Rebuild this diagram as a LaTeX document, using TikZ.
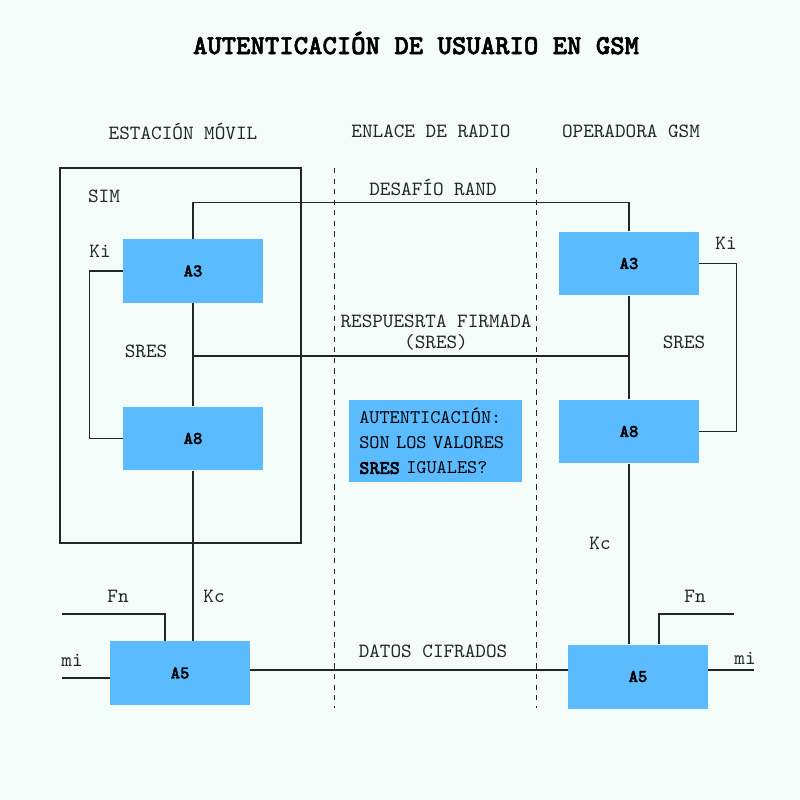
\documentclass[tikz,border=0pt]{standalone}
\usepackage{fontspec}
\setmainfont{lmmono10-regular}[Extension=.otf,BoldFont=lmmonolt10-bold,BoldFeatures={FakeBold=2}]
\usetikzlibrary{calc}
\definecolor{fondo}{RGB}{243,252,249}
\definecolor{caja}{RGB}{90,188,255}
\definecolor{linea}{RGB}{34,38,42}

\tikzset{
  bloque/.style={fill=caja,minimum width=2.8cm,minimum height=1.28cm,inner sep=0pt,
                 font=\fontsize{10.2}{11}\selectfont\bfseries},
  etiqueta/.style={font=\fontsize{11.5}{13}\selectfont,text=black!85,inner sep=0pt},
  conector/.style={draw=linea,line width=0.6pt},
}

\begin{document}
\begin{tikzpicture}[x=0.02cm,y=-0.02cm]
  \fill[fondo] (0,0) rectangle (800,800);
  \useasboundingbox (0,0) rectangle (800,800);
  \node[font=\fontsize{15.6}{18}\selectfont\bfseries,inner sep=0pt] (titulo) at (416,43) {AUTENTICACIÓN DE USUARIO EN GSM};
  \node[etiqueta] (movil)  at (183,131) {ESTACIÓN MÓVIL};
  \node[etiqueta] (radio)  at (431,131) {ENLACE DE RADIO};
  \node[etiqueta] (oper)   at (631,131) {OPERADORA GSM};
  % separadores del enlace de radio
  \draw[linea,dashed,line width=0.5pt] (334,168) -- (334,708);
  \draw[linea,dashed,line width=0.5pt] (536,168) -- (536,708);
  % tarjeta SIM
  \draw[conector] (60,168) rectangle (301,543);
  \node[etiqueta] (sim) at (104,196) {SIM};
  % bloques
  \node[bloque] (A3m) at (193,271) {A3};
  \node[bloque] (A8m) at (193,438.5) {A8};
  \node[bloque] (A5m) at (180,673) {A5};
  \node[bloque] (A3o) at (629,263.5) {A3};
  \node[bloque] (A8o) at (629,431.5) {A8};
  \node[bloque] (A5o) at (638,676.5) {A5};
  \node[bloque,font=\fontsize{11}{14.4}\selectfont,minimum width=3.46cm,minimum height=1.64cm,
        align=left,text width=3.05cm] (decision) at (435.5,441)
        {AUTENTICACIÓN:\\SON LOS VALORES\\\textbf{SRES} IGUALES?};
  % extremos libres
  \coordinate (fnm) at (62,614);
  \coordinate (mim) at (62,678);
  \coordinate (fno) at (734,614);
  \coordinate (mio) at (754,670);
  \coordinate (sres) at (0,356);
  \begin{scope}[every path/.style={conector}]
    \draw (A3m.north) -- ++(0,-36) -| (A3o.north);
    \draw (A3m.west) -- ++(-33,0) |- (A8m.west);
    \draw (A3o.east) -- ++(37,0) |- (A8o.east);
    \draw (A3m) -- (A8m);
    \draw (A3o) -- (A8o);
    \draw (A3m.south |- sres) -- (A3o.south |- sres);
    \draw (A8m.south) -- (A8m.south |- A5m.north);
    \draw (A8o.south) -- (A8o.south |- A5o.north);
    \draw (fnm) -| ($(A5m.north)+(-15,0)$);
    \draw (fno) -| ($(A5o.north)+(21,0)$);
    \draw (mim) -- (mim -| A5m.west);
    \draw (mio) -- (mio -| A5o.east);
    \draw (A5m.east |- mio) -- (A5o.west |- mio);
  \end{scope}
  % rotulos
  \node[etiqueta] (rand)  at (433,187) {DESAFÍO RAND};
  \node[etiqueta] (resp)  at (436,321) {RESPUESRTA FIRMADA};
  \node[etiqueta] (resp2) at (436,342) {(SRES)};
  \node[etiqueta] (kim)   at (100,251) {Ki};
  \node[etiqueta] (kio)   at (726,243) {Ki};
  \node[etiqueta] (sresm) at (146,351) {SRES};
  \node[etiqueta] (sreso) at (684,342) {SRES};
  \node[etiqueta] (kcm)   at (214,596) {Kc};
  \node[etiqueta] (kco)   at (600,543) {Kc};
  \node[etiqueta] (fnml)  at (118,596) {Fn};
  \node[etiqueta] (fnol)  at (695,596) {Fn};
  \node[etiqueta] (miml)  at (72,660) {mi};
  \node[etiqueta] (miol)  at (745,658) {mi};
  \node[etiqueta] (datos) at (433,651) {DATOS CIFRADOS};
\end{tikzpicture}
\end{document}
